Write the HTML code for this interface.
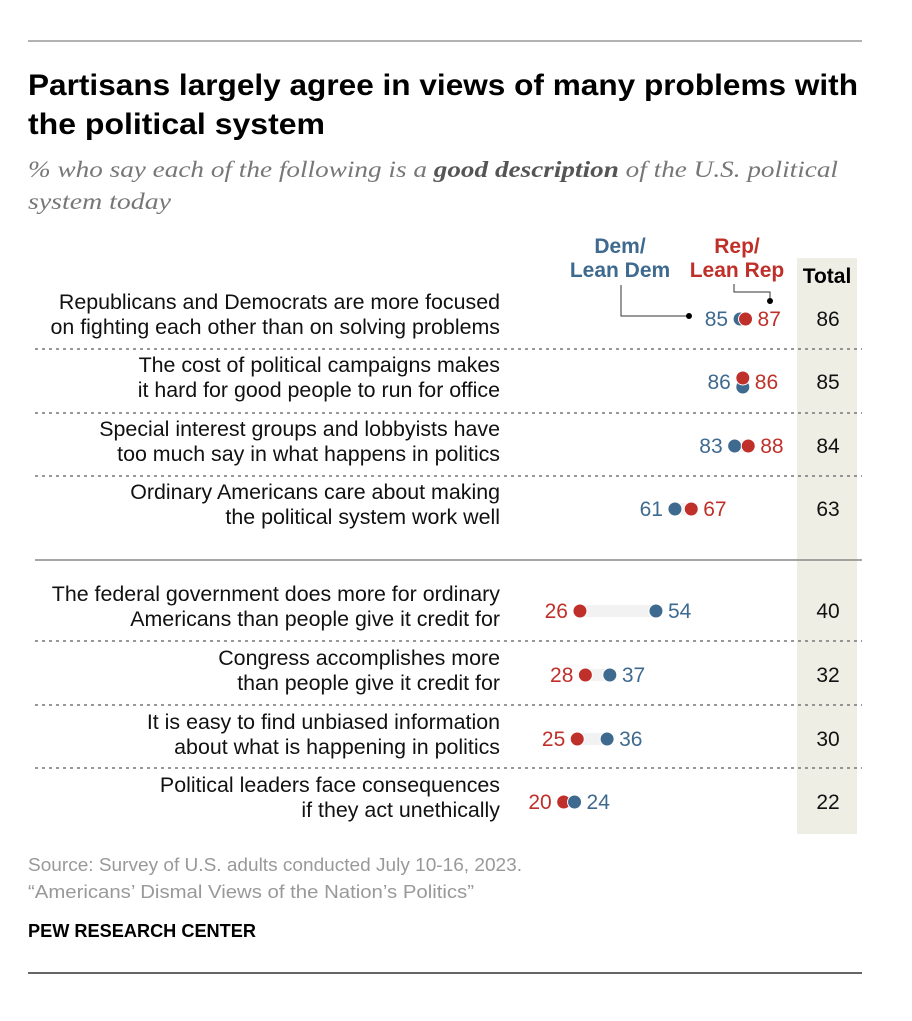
<!DOCTYPE html>
<html><head><meta charset="utf-8"><style>
body{margin:0;background:#fff;width:912px;height:1016px;overflow:hidden;font-family:"Liberation Sans",sans-serif}
</style></head><body>
<svg width="912" height="1016" style="font-family:'Liberation Sans',sans-serif">
<line x1="28" y1="41" x2="862" y2="41" stroke="#999" stroke-width="1.5"/>
<text x="28" y="95" font-size="30" font-weight="bold" fill="#000" textLength="830" lengthAdjust="spacingAndGlyphs">Partisans largely agree in views of many problems with</text>
<text x="28" y="134" font-size="30" font-weight="bold" fill="#000" textLength="297" lengthAdjust="spacingAndGlyphs">the political system</text>
<text x="28" y="177" font-size="23" font-style="italic" fill="#777" font-family="Liberation Serif, serif" textLength="810" lengthAdjust="spacingAndGlyphs">% who say each of the following is a <tspan font-weight="bold" fill="#555">good description</tspan> of the U.S. political</text>
<text x="28" y="209" font-size="23" font-style="italic" fill="#777" font-family="Liberation Serif, serif" textLength="143" lengthAdjust="spacingAndGlyphs">system today</text>
<rect x="797" y="258" width="60" height="576" fill="#eeeee4"/>
<text x="827" y="283" font-size="21" font-weight="bold" text-anchor="middle">Total</text>
<g font-size="21" font-weight="bold" text-anchor="middle">
<text x="620" y="253" fill="#3f6a8f">Dem/</text>
<text x="620" y="277" fill="#3f6a8f">Lean Dem</text>
<text x="737" y="253" fill="#c0302a">Rep/</text>
<text x="737" y="277" fill="#c0302a">Lean Rep</text>
</g>
<polyline points="621,285 621,316 689,316" fill="none" stroke="#333" stroke-width="1"/>
<circle cx="689" cy="316" r="3" fill="#000"/>
<polyline points="734,284 734,292 770,292 770,301" fill="none" stroke="#333" stroke-width="1"/>
<circle cx="770" cy="301" r="3" fill="#000"/>
<g id="rows"></g>
<text x="28" y="871" font-size="18" fill="#999" textLength="494" lengthAdjust="spacingAndGlyphs">Source: Survey of U.S. adults conducted July 10-16, 2023.</text>
<text x="28" y="898" font-size="18" fill="#999" textLength="446" lengthAdjust="spacingAndGlyphs">“Americans’ Dismal Views of the Nation’s Politics”</text>
<text x="28" y="937" font-size="18" font-weight="bold" fill="#000" textLength="228" lengthAdjust="spacingAndGlyphs">PEW RESEARCH CENTER</text>
<line x1="28" y1="973" x2="862" y2="973" stroke="#333" stroke-width="1.5"/>
</svg>
<script>
const labels=[["Republicans and Democrats are more focused","on fighting each other than on solving problems"],["The cost of political campaigns makes","it hard for good people to run for office"],["Special interest groups and lobbyists have","too much say in what happens in politics"],["Ordinary Americans care about making","the political system work well"],["The federal government does more for ordinary","Americans than people give it credit for"],["Congress accomplishes more","than people give it credit for"],["It is easy to find unbiased information","about what is happening in politics"],["Political leaders face consequences","if they act unethically"]];
const dem=[85,86,83,61,54,37,36,24];
const rep=[87,86,88,67,26,28,25,20];
const total=[86,85,84,63,40,32,30,22];
const rowY=[319,382,446,509,611,675,739,802];
const x=v=>509.4+v*2.714;
const NS="http://www.w3.org/2000/svg";
const g=document.getElementById('rows');
function mk(t,a,p){const e=document.createElementNS(NS,t);for(const k in a)e.setAttribute(k,a[k]);(p||g).appendChild(e);return e;}
const DC="#3f6a8f",RC="#c0302a";
rowY.forEach((y,i)=>{
 labels[i].forEach((l,j)=>{const t=mk('text',{x:500,y:y-10+j*25,'font-size':21.4,'text-anchor':'end',fill:'#111'});t.textContent=l;
 
 });
 const d=dem[i],r=rep[i];
 const lo=Math.min(d,r),hi=Math.max(d,r);
 const bar=mk('rect',{x:x(lo),y:y-6,width:x(hi)-x(lo),height:12,fill:'#f2f2f2'});
 
 
 let dy=0,ry=0; if(d===r){dy=5;ry=-4;}
 const demFirst = d>r;
 const dc1=mk('circle',{cx:x(d),cy:y+dy,r:7,fill:DC,stroke:'#fff','stroke-width':1});
 
 
 const rc1=mk('circle',{cx:x(r),cy:y+ry,r:7,fill:RC,stroke:'#fff','stroke-width':1});
 
 
 if(demFirst) g.appendChild(dc1);
 const leftIsDem = d<=r;
 const lt=mk('text',{x:x(lo)-12,y:y+7,'font-size':21,'text-anchor':'end',fill:leftIsDem?DC:RC});
 lt.textContent=leftIsDem?d:r;
 
 
 const rt=mk('text',{x:x(hi)+12,y:y+7,'font-size':21,fill:leftIsDem?RC:DC});
 rt.textContent=leftIsDem?r:d;
 
 
 const tt=mk('text',{x:828,y:y+7,'font-size':21,'text-anchor':'middle',fill:'#111'});
 tt.textContent=total[i];
 
 
});
[349,413,476,641,705,768].forEach(y=>{const l=mk('line',{x1:35,x2:862,y1:y,y2:y,stroke:'#777','stroke-dasharray':'3,4','stroke-width':1.5});
 
 });
const s=mk('line',{x1:35,x2:862,y1:560,y2:560,stroke:'#888','stroke-width':1.5});


</script>
</body></html>
